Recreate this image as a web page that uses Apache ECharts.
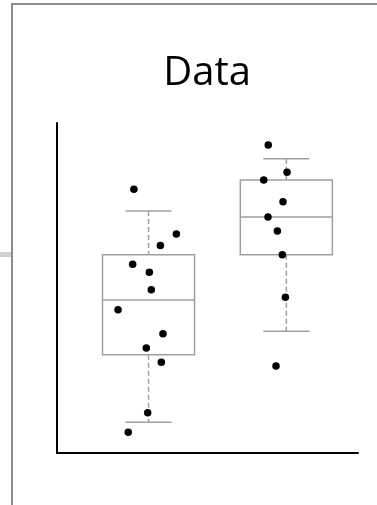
<!DOCTYPE html>
<html><head><meta charset="utf-8">
<script src="https://cdn.jsdelivr.net/npm/echarts@6/dist/echarts.min.js"></script>
<style>html,body{margin:0;padding:0;background:#fff}#c{width:377px;height:505px}</style>
</head><body><div id="c"></div>
<script>
// Group positions on the x scale (1 = first box, 2 = second box)
const groupPos = [1, 2];
// Box statistics: [lowWhisker, Q1, median, Q3, highWhisker]
const boxStats = [
  [0.93, 2.98, 4.64, 6.01, 7.33],
  [3.69, 6.01, 7.15, 8.27, 8.92]
];
// Jittered observations, group 1
const g1x = [0.894, 1.202, 1.086, 0.885, 1.006, 1.020, 0.779, 1.105, 0.984, 1.093, 0.994, 0.853];
const g1y = [7.99, 6.64, 6.29, 5.72, 5.48, 4.95, 4.34, 3.61, 3.18, 2.75, 1.22, 0.63];
// Jittered observations, group 2
const g2x = [1.869, 2.005, 1.836, 1.976, 1.867, 1.935, 1.971, 1.993, 1.925];
const g2y = [9.33, 8.51, 8.27, 7.61, 7.15, 6.73, 6.01, 4.72, 2.64];
const titleText = 'Data';

const boxHalf = 0.334;
const capHalf = 0.167;
const gray = '#9f9f9f';

const boxData = groupPos.map((p, i) => [p].concat(boxStats[i]));
const pts = g1x.map((x, i) => [x, g1y[i]]).concat(g2x.map((x, i) => [x, g2y[i]]));

const chart = echarts.init(document.getElementById('c'));
chart.setOption({
  animation: false,
  backgroundColor: '#fff',
  title: {
    text: titleText, left: 202, top: 49, textAlign: 'center',
    textStyle: {fontFamily: 'Open Sans', fontSize: 40, fontWeight: 'normal', color: '#000'}
  },
  grid: {left: 57, right: 19, top: 123, bottom: 52},
  xAxis: {
    type: 'value', min: 0.336, max: 2.52,
    axisLine: {show: true, onZero: false, lineStyle: {color: '#000', width: 2}},
    axisTick: {show: false}, axisLabel: {show: false}, splitLine: {show: false}
  },
  yAxis: {
    type: 'value', min: 0, max: 10,
    axisLine: {show: true, onZero: false, lineStyle: {color: '#000', width: 2}},
    axisTick: {show: false}, axisLabel: {show: false}, splitLine: {show: false}
  },
  graphic: [
    {type: 'line', shape: {x1: 12, y1: 3, x2: 12, y2: 505}, style: {stroke: '#8c8c8c', lineWidth: 2}, silent: true},
    {type: 'line', shape: {x1: 11, y1: 4, x2: 377, y2: 4}, style: {stroke: '#8c8c8c', lineWidth: 2}, silent: true},
    {type: 'rect', shape: {x: 0, y: 252, width: 11, height: 5}, style: {fill: '#cfcfcf'}, silent: true}
  ],
  series: [
    {
      type: 'custom',
      data: boxData,
      z: 2,
      renderItem: function (params, api) {
        const x = api.value(0);
        const lo = api.value(1), q1 = api.value(2), md = api.value(3), q3 = api.value(4), hi = api.value(5);
        const pL = api.coord([x - boxHalf, q3]);
        const pR = api.coord([x + boxHalf, q1]);
        const cMd = api.coord([x, md]);
        const cLo = api.coord([x, lo]);
        const cHi = api.coord([x, hi]);
        const cq1 = api.coord([x, q1]);
        const cq3 = api.coord([x, q3]);
        const capL = api.coord([x - capHalf, 0])[0];
        const capR = api.coord([x + capHalf, 0])[0];
        const solid = {stroke: gray, lineWidth: 1.5, fill: null};
        const dashed = {stroke: gray, lineWidth: 1.5, lineDash: [5, 3]};
        return {
          type: 'group',
          children: [
            {type: 'line', shape: {x1: cHi[0], y1: cHi[1], x2: cq3[0], y2: cq3[1]}, style: dashed},
            {type: 'line', shape: {x1: cq1[0], y1: cq1[1], x2: cLo[0], y2: cLo[1]}, style: dashed},
            {type: 'line', shape: {x1: capL, y1: cHi[1], x2: capR, y2: cHi[1]}, style: solid},
            {type: 'line', shape: {x1: capL, y1: cLo[1], x2: capR, y2: cLo[1]}, style: solid},
            {type: 'rect', shape: {x: pL[0], y: pL[1], width: pR[0] - pL[0], height: pR[1] - pL[1]}, style: solid},
            {type: 'line', shape: {x1: pL[0], y1: cMd[1], x2: pR[0], y2: cMd[1]}, style: solid}
          ]
        };
      }
    },
    {
      type: 'scatter',
      data: pts,
      z: 5,
      symbol: 'circle',
      symbolSize: 7.5,
      itemStyle: {color: '#000', opacity: 1}
    }
  ]
});
</script></body></html>
